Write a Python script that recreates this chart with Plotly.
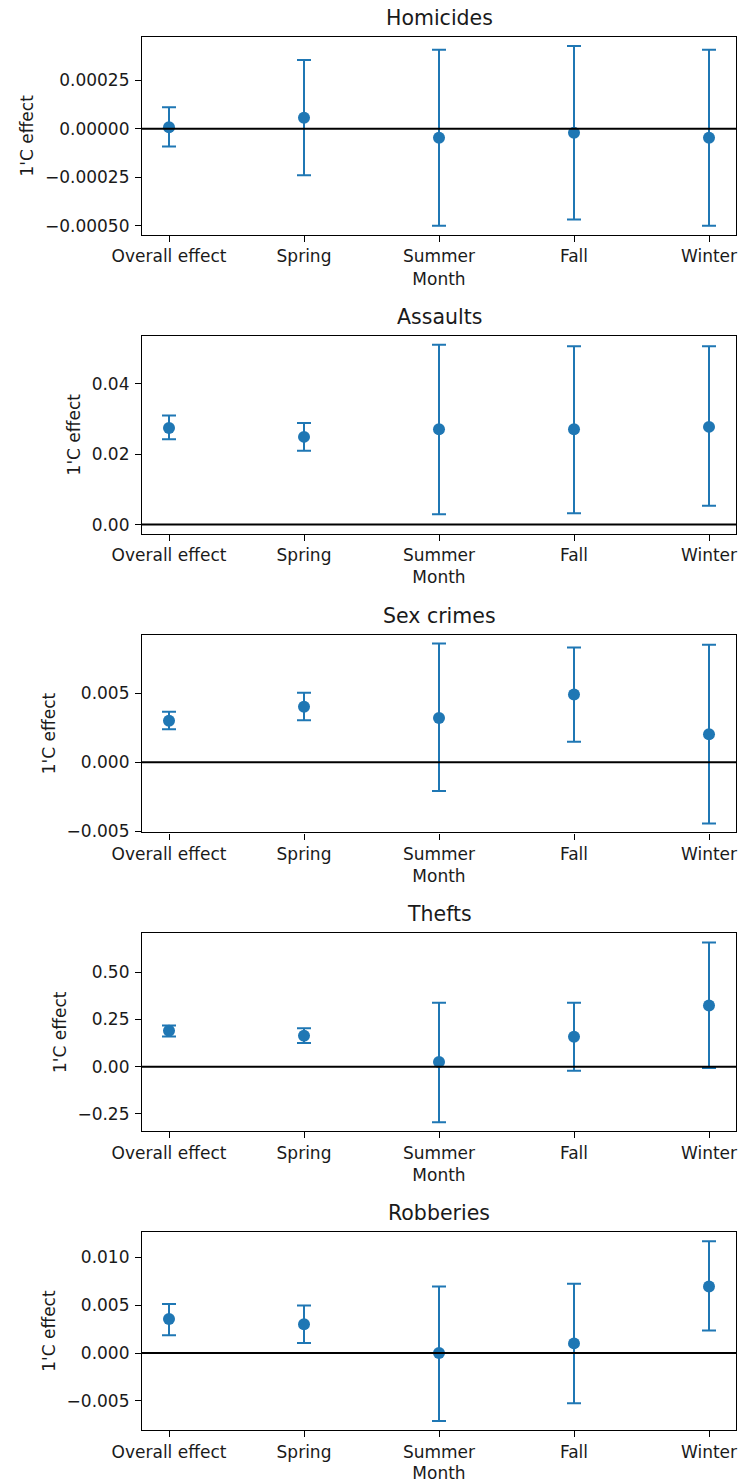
import plotly.graph_objects as go
from plotly.subplots import make_subplots

categories = ["Overall effect", "Spring", "Summer", "Fall", "Winter"]

titles = ["Homicides", "Assaults", "Sex crimes", "Thefts", "Robberies"]

homicides_est = [0.000007, 0.000057, -0.000046, -0.000021, -0.000046]
homicides_lo = [-0.000091, -0.00024, -0.0005, -0.000467, -0.0005]
homicides_hi = [0.00011, 0.000354, 0.000406, 0.000426, 0.000406]

assaults_est = [0.02745, 0.0249, 0.02708, 0.02708, 0.02774]
assaults_lo = [0.02425, 0.02094, 0.00292, 0.00321, 0.00538]
assaults_hi = [0.0310, 0.02887, 0.05104, 0.05066, 0.05066]

sex_est = [0.0030, 0.00401, 0.0032, 0.0049, 0.00202]
sex_lo = [0.00238, 0.00303, -0.00207, 0.00149, -0.00442]
sex_hi = [0.00365, 0.00502, 0.00858, 0.00829, 0.00849]

thefts_est = [0.190, 0.164, 0.0246, 0.158, 0.324]
thefts_lo = [0.160, 0.125, -0.294, -0.021, -0.007]
thefts_hi = [0.218, 0.204, 0.338, 0.338, 0.658]

robberies_est = [0.00355, 0.0030, 0.0, 0.00101, 0.00697]
robberies_lo = [0.00185, 0.00105, -0.00711, -0.00526, 0.00237]
robberies_hi = [0.00512, 0.00498, 0.00697, 0.00725, 0.0117]

homicides_ticks = [-0.0005, -0.00025, 0.0, 0.00025]
homicides_ticktext = ["\u22120.00050", "\u22120.00025", "0.00000", "0.00025"]
assaults_ticks = [0.0, 0.02, 0.04]
assaults_ticktext = ["0.00", "0.02", "0.04"]
sex_ticks = [-0.005, 0.0, 0.005]
sex_ticktext = ["\u22120.005", "0.000", "0.005"]
thefts_ticks = [-0.25, 0.0, 0.25, 0.5]
thefts_ticktext = ["\u22120.25", "0.00", "0.25", "0.50"]
robberies_ticks = [-0.005, 0.0, 0.005, 0.01]
robberies_ticktext = ["\u22120.005", "0.000", "0.005", "0.010"]

panels = [
    (homicides_est, homicides_lo, homicides_hi, homicides_ticks, homicides_ticktext),
    (assaults_est, assaults_lo, assaults_hi, assaults_ticks, assaults_ticktext),
    (sex_est, sex_lo, sex_hi, sex_ticks, sex_ticktext),
    (thefts_est, thefts_lo, thefts_hi, thefts_ticks, thefts_ticktext),
    (robberies_est, robberies_lo, robberies_hi, robberies_ticks, robberies_ticktext),
]

BLUE = "#1f77b4"
FONT = "DejaVu Sans"
TXT = "#1a1a1a"
W, H = 739, 1483
ML, MR, MT, MB = 142, 3, 37, 53
plot_h = H - MT - MB

fig = make_subplots(rows=5, cols=1, vertical_spacing=101 / plot_h)

for i, (est, lo, hi, tv, tt) in enumerate(panels):
    r = i + 1
    up = [h - e for h, e in zip(hi, est)]
    dn = [e - l for e, l in zip(est, lo)]
    fig.add_trace(go.Scatter(
        x=categories, y=est, mode="markers",
        marker=dict(color=BLUE, size=12),
        error_y=dict(type="data", symmetric=False, array=up, arrayminus=dn,
                     color=BLUE, thickness=2, width=7),
        showlegend=False,
    ), row=r, col=1)
    fig.add_hline(y=0, line_color="black", line_width=2, row=r, col=1)
    dmin = min(min(lo), 0.0)
    dmax = max(max(hi), 0.0)
    pad = 0.05 * (dmax - dmin)
    fig.update_yaxes(range=[dmin - pad, dmax + pad], tickvals=tv, ticktext=tt,
                     row=r, col=1)
    fig.update_xaxes(title_text="Month", row=r, col=1)

fig.update_xaxes(type="category", range=[-0.2, 4.2], showline=True, mirror=True,
                 linecolor="black", linewidth=1.2, ticks="outside", ticklen=6,
                 tickcolor="black", showgrid=False, zeroline=False,
                 tickfont=dict(family=FONT, size=17, color=TXT),
                 title_font=dict(family=FONT, size=17, color=TXT),
                 title_standoff=7)
fig.update_yaxes(showline=True, mirror=True, linecolor="black", linewidth=1.2,
                 ticks="outside", ticklen=6, tickcolor="black", showgrid=False,
                 zeroline=False, ticklabelstandoff=2,
                 tickfont=dict(family=FONT, size=17, color=TXT),
                 title_text="1'C effect",
                 title_font=dict(family=FONT, size=17, color=TXT),
                 title_standoff=6)

for i, t in enumerate(titles):
    yax = fig.layout["yaxis" if i == 0 else f"yaxis{i+1}"]
    top = yax.domain[1]
    fig.add_annotation(text=t, xref="paper", yref="paper", x=0.5, y=top,
                       xanchor="center", yanchor="bottom", yshift=5,
                       showarrow=False,
                       font=dict(family=FONT, size=20.5, color=TXT))

fig.update_layout(width=W, height=H, margin=dict(l=ML, r=MR, t=MT, b=MB),
                  paper_bgcolor="white", plot_bgcolor="white",
                  font=dict(family=FONT))

fig.write_html("out.html")
